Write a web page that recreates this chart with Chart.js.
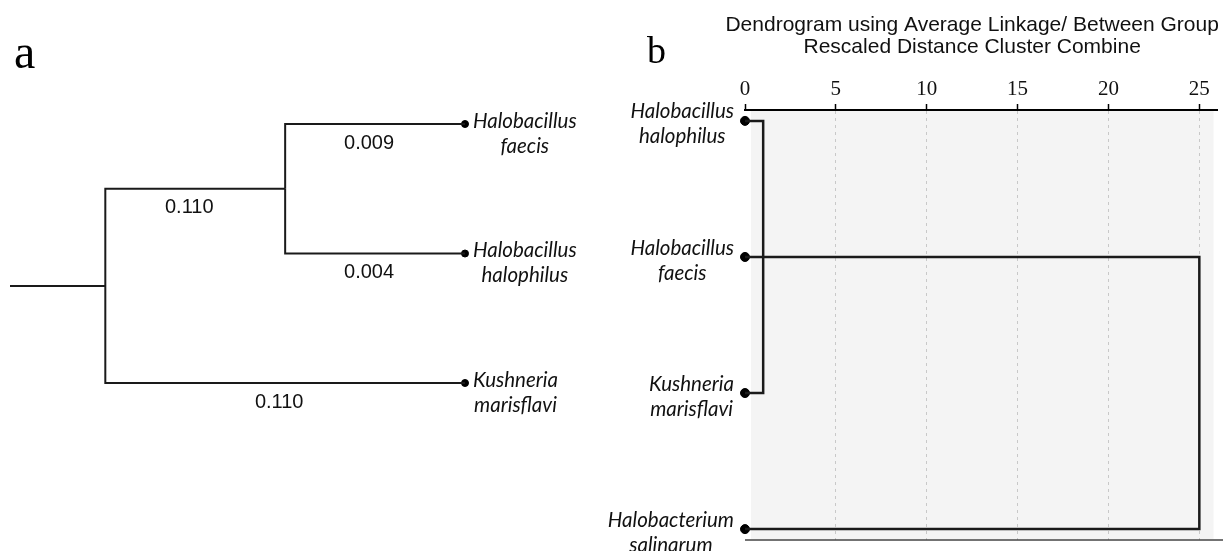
<!DOCTYPE html>
<html>
<head>
<meta charset="utf-8">
<script src="https://cdn.jsdelivr.net/npm/chart.js@4.4.1/dist/chart.umd.min.js"></script>
<style>
  html, body { margin: 0; padding: 0; background: #fff; }
  #wrap { position: relative; width: 1223px; height: 551px; }
  canvas { position: absolute; top: 0; }
  #treeA { left: 0; }
  #dendroB { left: 600px; }
</style>
</head>
<body>
<div id="wrap">
  <canvas id="treeA" width="600" height="551"></canvas>
  <canvas id="dendroB" width="623" height="551"></canvas>
</div>
<script>
// panel a: tree, parent index per node (-1 = root)
const nodeNames = ['', '', 'Halobacillus faecis', 'Halobacillus halophilus', 'Kushneria marisflavi'];
const nodeParent = [-1, 0, 1, 1, 0];
const branchLengths = [null, '0.110', '0.009', '0.004', '0.110'];

// panel b: dendrogram
const dendroLeaves = ['Halobacillus halophilus', 'Halobacillus faecis', 'Kushneria marisflavi', 'Halobacterium salinarum'];
const mergePairs = [[0, 2], [1, 3]];
const mergeDistances = [1, 25];
const distanceTicks = [0, 5, 10, 15, 20, 25];
const titleLines = ['Dendrogram using Average Linkage/ Between Group', 'Rescaled Distance Cluster Combine'];

const lineCol = '#1a1a1a';
const nameFont = 'italic 20.5px Lato';

// --- tree layout (cladogram: leaves aligned) ---
const children = nodeParent.map((_, i) => nodeParent.map((p, j) => p === i ? j : -1).filter(j => j >= 0));
function depthOf(i) { return nodeParent[i] < 0 ? 0 : depthOf(nodeParent[i]) + 1; }
const isLeaf = i => children[i].length === 0;
const maxDepth = Math.max(...nodeParent.map((_, i) => depthOf(i)));
const nodeX = nodeParent.map((_, i) => isLeaf(i) ? maxDepth : depthOf(i));
const nodeY = [];
let leafN = 0;
function placeY(i) {
  if (isLeaf(i)) { nodeY[i] = leafN++; return; }
  children[i].forEach(placeY);
  nodeY[i] = children[i].reduce((s, c) => s + nodeY[c], 0) / children[i].length;
}
placeY(0);
const root = nodeParent.indexOf(-1);

function lineSet(pts, w) {
  return { type: 'line', data: pts, borderColor: lineCol, borderWidth: w, pointRadius: 0, fill: false, tension: 0, clip: false };
}

const treeSets = [lineSet([{ x: -0.53, y: nodeY[root] }, { x: nodeX[root], y: nodeY[root] }], 2)];
nodeParent.forEach((p, i) => {
  if (p < 0) return;
  treeSets.push(lineSet([{ x: nodeX[p], y: nodeY[p] }, { x: nodeX[p], y: nodeY[i] }, { x: nodeX[i], y: nodeY[i] }], 2));
});
treeSets.push({
  type: 'scatter',
  data: nodeParent.map((_, i) => i).filter(isLeaf).map(i => ({ x: nodeX[i], y: nodeY[i] })),
  backgroundColor: '#000', borderColor: '#000', pointRadius: 3.5, clip: false
});

function drawName(ctx, name, px, py, align, dy1, dy2) {
  const parts = name.split(' ');
  ctx.font = nameFont;
  ctx.fillStyle = '#111';
  ctx.textAlign = 'center';
  ctx.textBaseline = 'middle';
  const w = Math.max(...parts.map(t => ctx.measureText(t).width));
  const cx = align === 'left' ? px + w / 2 : px - w / 2;
  ctx.fillText(parts[0], cx, py + dy1);
  if (parts[1]) ctx.fillText(parts[1], cx, py + dy2);
}

const treeLabels = {
  id: 'treeLabels',
  afterDatasetsDraw(chart) {
    const { ctx, scales: { x, y } } = chart;
    ctx.save();
    ctx.fillStyle = '#111';
    ctx.font = '20px "Liberation Sans", Arial';
    ctx.textAlign = 'center';
    ctx.textBaseline = 'middle';
    nodeParent.forEach((p, i) => {
      if (p < 0 || !branchLengths[i]) return;
      const mx = (x.getPixelForValue(nodeX[p]) + x.getPixelForValue(nodeX[i])) / 2 - 6;
      ctx.fillText(branchLengths[i], mx, y.getPixelForValue(nodeY[i]) + 19);
    });
    nodeParent.forEach((_, i) => {
      if (!isLeaf(i)) return;
      drawName(ctx, nodeNames[i], x.getPixelForValue(nodeX[i]) + 8, y.getPixelForValue(nodeY[i]), 'left', -3, 22);
    });
    ctx.font = '48px "Liberation Serif", "Times New Roman", serif';
    ctx.textAlign = 'left';
    ctx.textBaseline = 'alphabetic';
    ctx.fillStyle = '#000';
    ctx.fillText('a', 14, 68);
    ctx.restore();
  }
};

new Chart(document.getElementById('treeA'), {
  data: { datasets: treeSets },
  options: {
    responsive: false,
    animation: false,
    layout: { padding: { left: 10, right: 135, top: 124, bottom: 168 } },
    plugins: { legend: { display: false }, tooltip: { enabled: false } },
    scales: {
      x: { type: 'linear', display: false, min: -0.53, max: maxDepth },
      y: { type: 'linear', display: false, reverse: true, min: 0, max: leafN - 1 }
    }
  },
  plugins: [treeLabels]
});

// --- dendrogram ---
const dendroSets = mergePairs.map((pr, k) => lineSet([
  { x: 0, y: pr[0] }, { x: mergeDistances[k], y: pr[0] },
  { x: mergeDistances[k], y: pr[1] }, { x: 0, y: pr[1] }
], 2.5));
dendroSets.push({
  type: 'scatter',
  data: dendroLeaves.map((_, i) => ({ x: 0, y: i })),
  backgroundColor: '#000', borderColor: '#000', pointRadius: 4.5, clip: false
});

const dendroDeco = {
  id: 'dendroDeco',
  beforeDraw(chart) {
    const { ctx, chartArea: a } = chart;
    ctx.save();
    ctx.fillStyle = '#f4f4f4';
    ctx.fillRect(a.left + 6, a.top + 1, a.right - a.left - 10, a.bottom - a.top - 2);
    ctx.restore();
  },
  afterDraw(chart) {
    const { ctx, chartArea: a, scales: { x, y } } = chart;
    ctx.save();
    ctx.strokeStyle = '#444';
    ctx.lineWidth = 1.5;
    ctx.beginPath();
    ctx.moveTo(a.left, a.bottom);
    ctx.lineTo(chart.width, a.bottom);
    ctx.stroke();

    ctx.fillStyle = '#111';
    ctx.font = '21px "Liberation Sans", Arial';
    ctx.textAlign = 'center';
    ctx.textBaseline = 'middle';
    const cx = x.getPixelForValue(12.5);
    titleLines.forEach((t, i) => ctx.fillText(t, cx, 25 + i * 22));

    dendroLeaves.forEach((name, i) => {
      drawName(ctx, name, x.getPixelForValue(0) - 11, y.getPixelForValue(i), 'right', -9, 16);
    });

    ctx.font = '38px "Liberation Serif", "Times New Roman", serif';
    ctx.textAlign = 'left';
    ctx.textBaseline = 'alphabetic';
    ctx.fillStyle = '#000';
    ctx.fillText('b', 47, 63);
    ctx.restore();
  }
};

new Chart(document.getElementById('dendroB'), {
  data: { datasets: dendroSets },
  options: {
    responsive: false,
    animation: false,
    layout: { padding: { left: 145, right: 5, top: 0, bottom: 11 } },
    plugins: { legend: { display: false }, tooltip: { enabled: false } },
    scales: {
      x: {
        type: 'linear',
        position: 'top',
        min: 0,
        max: 26,
        afterFit(s) { s.height = 110; },
        afterBuildTicks(s) { s.ticks = distanceTicks.map(v => ({ value: v })); },
        ticks: {
          font: { family: '"Liberation Serif", "Times New Roman", serif', size: 21 },
          color: '#111',
          padding: 2,
          maxRotation: 0
        },
        grid: {
          color: c => (c.tick && c.tick.value === 0) ? 'rgba(0,0,0,0)' : '#c8c8c8',
          lineWidth: 1,
          tickLength: 6,
          tickColor: '#000',
          tickWidth: 1.5
        },
        border: { display: true, color: '#000', width: 2, dash: [3, 4] }
      },
      y: { type: 'linear', display: false, reverse: true, min: -0.08, max: 3.08 }
    }
  },
  plugins: [dendroDeco]
});
</script>
</body>
</html>
